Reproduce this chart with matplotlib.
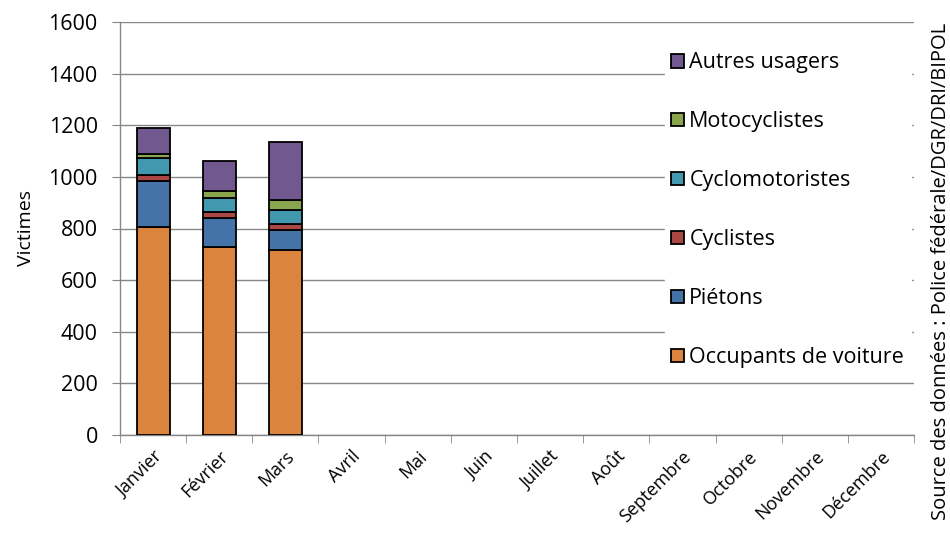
import matplotlib.pyplot as plt
import numpy as np

plt.rcParams['font.family'] = ['Open Sans', 'DejaVu Sans']

mois = ["Janvier", "Février", "Mars", "Avril", "Mai", "Juin", "Juillet",
        "Août", "Septembre", "Octobre", "Novembre", "Décembre"]

# victimes par catégorie d'usager (seuls les 3 premiers mois sont connus)
occupants = [807, 727, 715]
pietons = [177, 115, 81]
cyclistes = [23, 23, 20]
cyclomoto = [65, 53, 56]
moto = [16, 27, 39]
autres = [103, 117, 223]

series = [
    ("Occupants de voiture", occupants, "#DB843D"),
    ("Piétons", pietons, "#4572A7"),
    ("Cyclistes", cyclistes, "#AA4643"),
    ("Cyclomotoristes", cyclomoto, "#4198AF"),
    ("Motocyclistes", moto, "#89A54E"),
    ("Autres usagers", autres, "#71588F"),
]

fig = plt.figure(figsize=(9.5, 5.42), dpi=100)
ax = fig.add_axes([120 / 950, 1 - 435 / 542, 794 / 950, 413 / 542])

x = np.arange(len(series[0][1]))
bas = np.zeros(len(x))
handles = []
for nom, vals, couleur in series:
    b = ax.bar(x, vals, width=0.5, bottom=bas, color=couleur,
               edgecolor="black", linewidth=1.3, label=nom, zorder=3)
    bas += np.array(vals)
    handles.append(b)

ax.set_xlim(-0.5, len(mois) - 0.5)
ax.set_ylim(0, 1600)
ax.set_yticks(range(0, 1601, 200))
ax.set_xticks(np.arange(len(mois)))
ax.set_xticklabels(mois, rotation=45, ha="right", rotation_mode="anchor",
                   fontsize=13)
ax.tick_params(axis="y", labelsize=15.5, length=6, color="#868686", pad=10)
ax.tick_params(axis="x", length=0, pad=9)
# petits traits entre les catégories
ax.set_xticks(np.arange(len(mois) + 1) - 0.5, minor=True)
ax.tick_params(axis="x", which="minor", length=6, color="#868686")

ax.grid(axis="y", color="#868686", linewidth=1, zorder=0)
for s in ["top", "right"]:
    ax.spines[s].set_visible(False)
for s in ["left", "bottom"]:
    ax.spines[s].set_color("#868686")
    ax.spines[s].set_linewidth(1)

ax.set_ylabel("Victimes", fontsize=14, labelpad=10)

leg = ax.legend(handles[::-1], [s[0] for s in series][::-1],
                loc="upper left", bbox_to_anchor=(545 / 794, 1 - 24 / 413),
                frameon=True, fancybox=False, edgecolor="white",
                facecolor="white", framealpha=1, fontsize=15.5,
                handlelength=0.58, handleheight=0.58, handletextpad=0.25,
                labelspacing=1.76, borderpad=0.3, borderaxespad=0)
leg.set_zorder(5)

fig.text(941 / 950, 0.5, "Source des données : Police fédérale/DGR/DRI/BIPOL",
         rotation=90, ha="center", va="center", fontsize=14.5)

fig.savefig("out.png", dpi=100)
